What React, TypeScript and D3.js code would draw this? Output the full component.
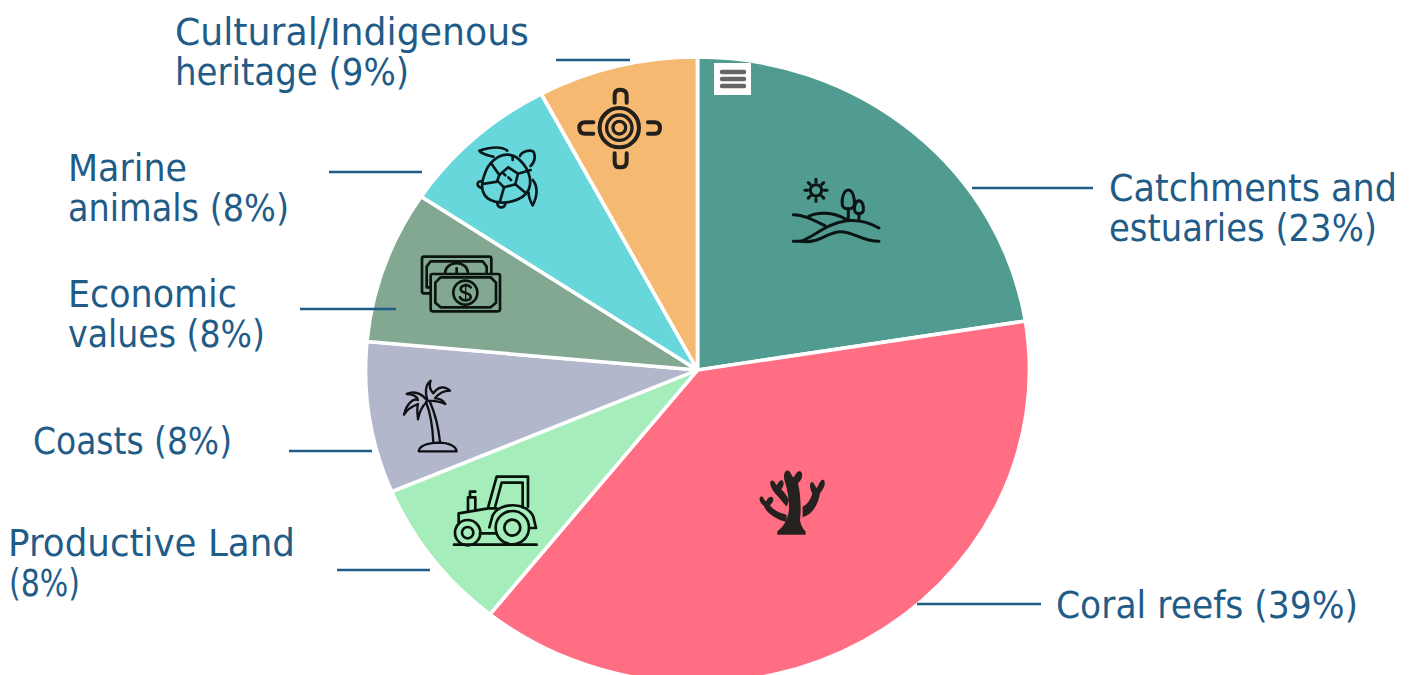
import React from "react";
import * as d3 from "d3";

const categories = ["Catchments and estuaries", "Coral reefs", "Productive Land", "Coasts", "Economic values", "Marine animals", "Cultural/Indigenous heritage"];
const shares = [22.5, 38.25, 7.9, 7.8, 7.9, 7.85, 7.8];
const sliceColors = ["#509C90", "#FF6E82", "#A5EDBB", "#B2B7CB", "#82A892", "#68D7DB", "#F5B971"];
const labelLines = [["Catchments and", "estuaries (23%)"], ["Coral reefs (39%)"], ["Productive Land", "(8%)"], ["Coasts (8%)"], ["Economic", "values (8%)"], ["Marine", "animals (8%)"], ["Cultural/Indigenous", "heritage (9%)"]];

const W = 1416, H = 675, CX = 697.5, CY = 370, RX = 332, RY = 313;
const INK = "#1F5C87";
const labelLayout = [
  { lines: [[1109, 201, 288], [1109, 241, 268]], lead: [972, 1093, 188] },
  { lines: [[1056, 618, 302]], lead: [917, 1041, 604] },
  { lines: [[8, 556, 287], [9, 596, 71]], lead: [337, 430, 570] },
  { lines: [[33, 454, 199]], lead: [289, 372, 451] },
  { lines: [[68, 307, 169], [68, 347, 197]], lead: [300, 396, 309] },
  { lines: [[68, 181, 119], [68, 221, 221]], lead: [329, 422, 172] },
  { lines: [[175, 45, 354], [175, 85, 234]], lead: [556, 630, 60] },
];

function Landscape() {
  const rays = d3.range(8).map((i) => (i * Math.PI) / 4);
  return (
    <g transform="translate(680,50) scale(0.3333)" fill="none" stroke="#0a1412" strokeWidth={9} strokeLinecap="round" strokeLinejoin="round">
      <circle cx={408} cy={421} r={17} />
      {rays.map((a, i) => (
        <line key={i} x1={408 + 25 * Math.cos(a)} y1={421 + 25 * Math.sin(a)} x2={408 + 33 * Math.cos(a)} y2={421 + 33 * Math.sin(a)} />
      ))}
      <path d="M340,494C370,494 400,510 436,528" />
      <path d="M385,500C410,485 460,485 498,508" />
      <path d="M340,574H362C400,562 440,520 500,512C540,508 570,518 597,534" />
      <path d="M362,574C420,582 440,545 482,545C520,545 545,574 597,574" />
      <path d="M505,420C490,420 484,450 487,465C490,480 520,480 523,465C525,450 520,420 505,420Z" />
      <path d="M505,476V508" />
      <path d="M537,452C526,452 522,470 524,482C527,494 547,494 550,482C552,470 548,452 537,452Z" />
      <path d="M537,490V506" />
    </g>
  );
}

function Heritage() {
  return (
    <g transform="translate(400,80) scale(0.3333)" fill="none" stroke="#221f1c" strokeWidth={12} strokeLinecap="round" strokeLinejoin="round">
      <circle cx={658} cy={143} r={59} />
      <circle cx={658} cy={143} r={38} strokeWidth={10} />
      <circle cx={658} cy={143} r={19} strokeWidth={10} />
      <path d="M644,68V46Q644,29 660,29Q680,29 680,46V68" />
      <path d="M644,220V245Q644,262 660,262Q680,262 680,245V220" />
      <path d="M580,127H556Q538,127 538,144Q538,161 556,161H580" />
      <path d="M744,127H764Q780,127 780,144Q780,161 764,161H744" />
    </g>
  );
}

function Turtle() {
  return (
    <g transform="translate(400,80) scale(0.3333)" fill="none" stroke="#08181a" strokeWidth={8} strokeLinecap="round" strokeLinejoin="round">
      <path d="M320,224C355,222 395,270 390,315C385,355 330,375 285,365C245,355 238,320 255,280C265,250 290,226 320,224Z" />
      <path d="M298,285L325,262L354,281L346,313L312,322L292,302Z" />
      <path d="M298,285L275,252M354,281L392,270M346,313L378,340M312,322L300,364M292,305L248,312" />
      <path d="M280,230C265,226 245,222 238,212C260,205 300,195 322,212" />
      <path d="M360,228C365,215 395,205 402,218C408,235 400,250 392,258" />
      <path d="M398,300C412,315 415,345 398,376C392,365 385,350 386,338" />
      <path d="M246,305C232,300 226,318 245,324" />
      <path d="M292,368C292,385 315,388 316,370" />
      <path d="M338,228V240M312,282L316,286M325,292L333,300" />
    </g>
  );
}

function Money() {
  return (
    <g transform="translate(400,80) scale(0.3333)" fill="none" stroke="#0b140f" strokeWidth={8} strokeLinecap="round" strokeLinejoin="round">
      <path d="M90,640H72Q66,640 66,634V536Q66,530 72,530H268Q274,530 274,536V578" />
      <path d="M88,622H80V560L92,544H248L260,560V578" />
      <path d="M135,578C140,540 200,540 204,578" />
      <path d="M170,565V578" />
      <rect x={92} y={582} width={208} height={112} rx={6} />
      <path d="M122,592H272L288,608V668L272,682H122L106,668V608Z" />
      <circle cx={196} cy={638} r={36} />
      <path d="M212,622C205,612 182,614 182,628C182,642 212,636 212,650C212,664 186,664 180,652" />
      <path d="M197,612V664" strokeWidth={4} />
    </g>
  );
}

function Palm() {
  return (
    <g transform="translate(390,370) scale(0.3333)" fill="none" stroke="#0e1014" strokeWidth={7} strokeLinecap="round" strokeLinejoin="round">
      <path d="M86,244C88,228 105,220 145,218C180,218 198,230 200,244Z" />
      <path d="M130,218C128,170 122,130 108,96M150,215C145,170 135,130 120,96" />
      <path d="M112,92C100,75 75,60 50,72C65,72 80,78 84,90C70,84 50,100 42,134C52,115 70,108 84,102C80,115 82,130 84,148C88,125 95,110 110,96" />
      <path d="M112,90C105,65 105,45 122,32C115,50 120,60 130,70C145,48 165,48 180,62C160,62 145,72 135,85C150,85 160,92 166,102C150,95 130,92 112,92" />
    </g>
  );
}

function Tractor() {
  return (
    <g transform="translate(390,370) scale(0.3333)" fill="none" stroke="#07120a" strokeWidth={8} strokeLinecap="round" strokeLinejoin="round">
      <path d="M192,524H440" strokeWidth={8} />
      <circle cx={233} cy={488} r={38} />
      <circle cx={233} cy={488} r={17} />
      <circle cx={367} cy={473} r={50} />
      <circle cx={367} cy={473} r={24} />
      <path d="M206,458V430L295,415H320" />
      <path d="M270,490H320" />
      <path d="M298,472L308,436C330,395 410,395 430,440L438,474H420" />
      <path d="M295,410L320,320H414V410" />
      <path d="M316,408L335,338H398V412" />
      <path d="M234,422V382H256V418M240,382V365H256" />
    </g>
  );
}

function Coral() {
  return (
    <g transform="translate(390,370) scale(0.3333)">
      <path
        fill="#24211f"
        d="M1162,494L1162,484C1180,470 1192,455 1197,420C1198,390 1193,360 1185,335C1178,318 1184,300 1195,302C1203,305 1205,318 1210,322C1216,318 1220,300 1231,304C1242,310 1236,330 1224,340C1232,370 1234,420 1230,450C1232,465 1240,478 1247,484V494Z"
      />
      <path
        fill="#24211f"
        d="M1190,410L1165,380C1152,368 1136,345 1142,334C1150,326 1156,340 1160,346C1165,338 1170,328 1178,332C1185,340 1178,352 1174,358C1184,368 1192,380 1197,390ZM1190,434V456C1160,450 1128,428 1122,408C1110,398 1104,385 1114,379C1122,380 1122,392 1128,394C1132,388 1138,376 1148,382C1155,392 1144,402 1140,406C1150,420 1170,430 1190,434ZM1238,442V410C1252,405 1264,385 1267,370C1260,358 1256,340 1266,336C1275,340 1275,350 1280,354C1288,346 1290,326 1302,330C1310,345 1296,362 1290,370C1287,395 1272,432 1238,442Z"
      />
    </g>
  );
}

function MenuButton() {
  return (
    <g>
      <rect x={714} y={63} width={37} height={32} fill="#fff" />
      {[72, 79, 86].map((y) => (
        <line key={y} x1={722} x2={744} y1={y} y2={y} stroke="#666" strokeWidth={4.5} strokeLinecap="round" />
      ))}
    </g>
  );
}

export default function App() {
  const pie = d3.pie<number>().sort(null).startAngle(0).endAngle(2 * Math.PI)(shares);
  const arc = d3.arc<d3.PieArcDatum<number>>().innerRadius(0).outerRadius(RY);
  return (
    <svg width={W} height={H} viewBox={`0 0 ${W} ${H}`} style={{ position: "fixed", left: 0, top: 0, display: "block", background: "#fff" }}>
      <g transform={`translate(${CX},${CY}) scale(${RX / RY},1)`}>
        {pie.map((d, i) => (
          <path key={categories[i]} d={arc(d) || ""} fill={sliceColors[i]} stroke="#fff" strokeWidth={3.5} />
        ))}
      </g>
      <MenuButton />
      <Landscape />
      <Coral />
      <Tractor />
      <Palm />
      <Money />
      <Turtle />
      <Heritage />
      {labelLayout.map((l, i) => (
        <g key={categories[i]}>
          <line x1={l.lead[0]} x2={l.lead[1]} y1={l.lead[2]} y2={l.lead[2]} stroke={INK} strokeWidth={2.4} />
          {labelLines[i].map((t, j) => (
            <text key={t} x={l.lines[j][0]} y={l.lines[j][1]} textLength={l.lines[j][2]} lengthAdjust="spacingAndGlyphs" fill={INK} fontFamily="'DejaVu Sans', sans-serif" fontSize={37}>
              {t}
            </text>
          ))}
        </g>
      ))}
    </svg>
  );
}
